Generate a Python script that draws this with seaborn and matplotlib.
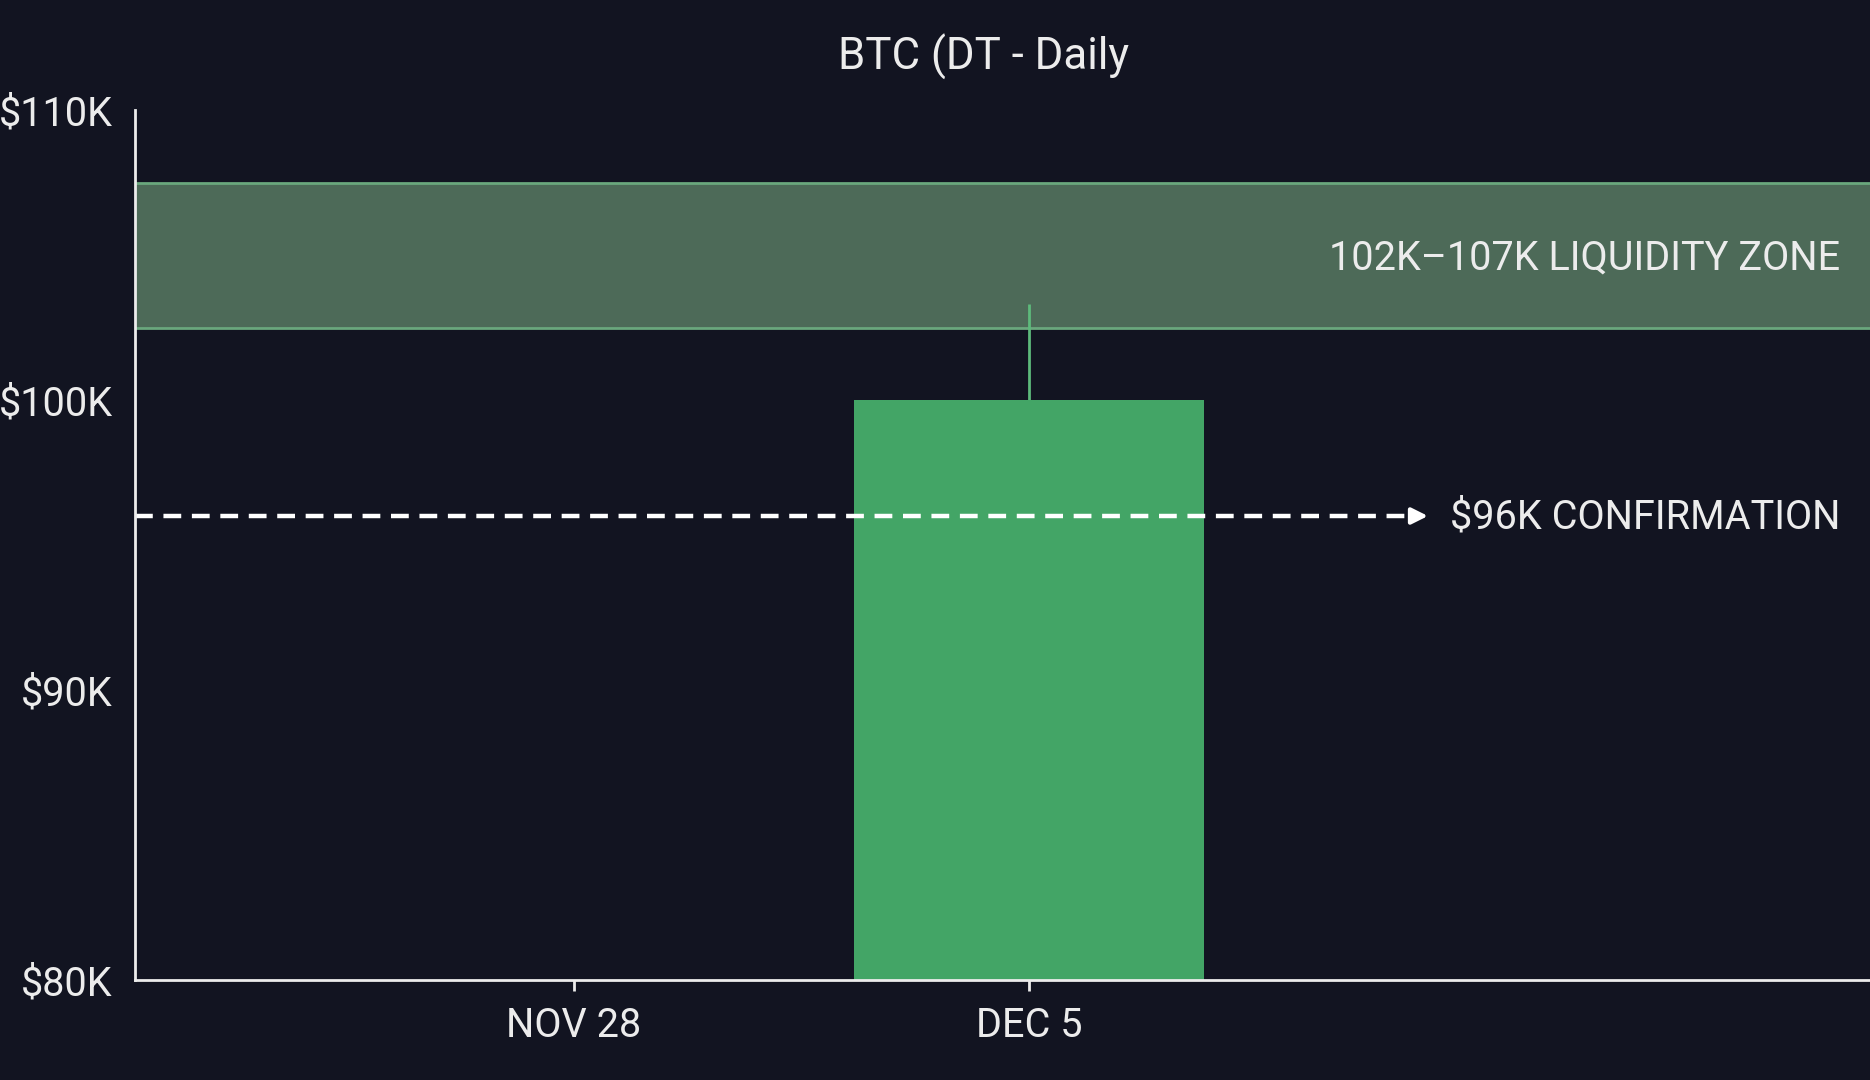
import pandas as pd
import seaborn as sns
import matplotlib.pyplot as plt

# --- datos (miles de USD, dias desde NOV 28) ---
tick_days = [0, 7]
tick_labels = ['NOV 28', 'DEC 5']
y_ticks = [80, 90, 100, 110]
y_labels = ['$80K', '$90K', '$100K', '$110K']

candle_day = [7]
candle_open = [80.0]
candle_close = [100.0]
candle_high = [103.3]

zone_low = 102.5
zone_high = 107.5
zone_label = '102K\u2013107K LIQUIDITY ZONE'

confirm_level = 96.0
confirm_end_day = 13.17
confirm_label = '$96K CONFIRMATION'

x_range = (-6.74, 19.92)
y_range = (80, 110)

BG = '#121421'
FG = '#ececec'
BAR = '#43a566'
ZONE = '#4d6a58'
ZONE_EDGE = '#6aa77d'
FS = 28.5

sns.set_theme(style='dark')
plt.rcParams['font.family'] = ['Roboto', 'DejaVu Sans']

fig = plt.figure(figsize=(18.7, 10.8), dpi=100, facecolor=BG)
ax = fig.add_axes([135 / 1870, 100 / 1080, 1 - 135 / 1870, 870 / 1080])
ax.set_facecolor(BG)

df = pd.DataFrame({'day': candle_day, 'close': candle_close})

# zona de liquidez
ax.axhspan(zone_low, zone_high, color=ZONE, zorder=1, lw=0)
ax.axhline(zone_low, color=ZONE_EDGE, lw=2, zorder=2)
ax.axhline(zone_high, color=ZONE_EDGE, lw=2, zorder=2)

# vela
sns.barplot(data=df, x='day', y='close', native_scale=True, width=5.37,
            color=BAR, saturation=1, ax=ax, zorder=3, linewidth=0)
ax.vlines(candle_day, candle_close, candle_high, color='#5dba7b', lw=2, zorder=2)

# linea de confirmacion
ax.plot([x_range[0], confirm_end_day - 0.15], [confirm_level] * 2, color='white',
        lw=3.2, ls=(0, (4, 2.4)), zorder=4)
ax.annotate('', xy=(confirm_end_day, confirm_level), xytext=(confirm_end_day - 0.3, confirm_level),
            arrowprops=dict(arrowstyle='-|>,head_length=0.8,head_width=0.4', color='white', lw=3),
            zorder=4)
ax.text(0.983, confirm_level - 0.05, confirm_label, transform=ax.get_yaxis_transform(),
        ha='right', va='center', color=FG, fontsize=FS, zorder=5)
ax.text(0.983, (zone_low + zone_high) / 2 - 0.12, zone_label, transform=ax.get_yaxis_transform(),
        ha='right', va='center', color=FG, fontsize=FS, zorder=5)

ax.set_xlim(*x_range)
ax.set_ylim(*y_range)
ax.set_xticks(tick_days, tick_labels)
ax.set_yticks(y_ticks, y_labels)
ax.set_xlabel('')
ax.set_ylabel('')
ax.grid(False)

for side in ['top', 'right']:
    ax.spines[side].set_visible(False)
for side in ['left', 'bottom']:
    ax.spines[side].set_visible(True)
    ax.spines[side].set_color(FG)
    ax.spines[side].set_linewidth(2)
    ax.spines[side].set_zorder(6)

ax.tick_params(axis='x', colors=FG, labelsize=FS, length=8, width=2, pad=11, bottom=True)
ax.tick_params(axis='y', colors=FG, labelsize=FS, length=0, pad=16)

fig.text(984 / 1870, 1 - 57 / 1080, 'BTC (DT - Daily', ha='center', va='center',
         color=FG, fontsize=31.5)

fig.savefig('out.png', dpi=100, facecolor=BG)
